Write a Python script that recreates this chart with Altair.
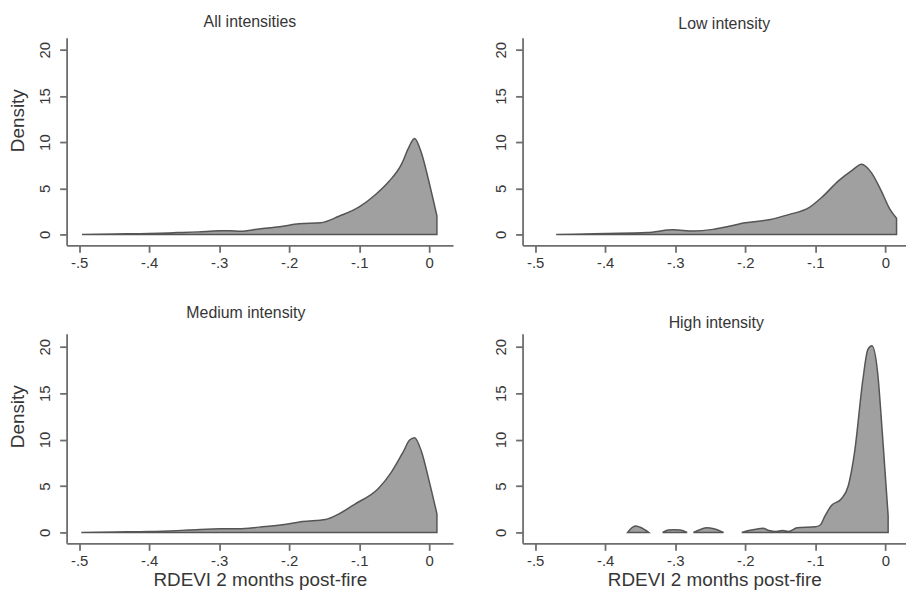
import altair as alt
import pandas as pd

FONT = "Liberation Sans"
TXT = "#363636"
AXC = "#6e6e6e"
FILL = "#a0a0a0"
EDGE = "#555555"

panel_titles = ["All intensities", "Low intensity", "Medium intensity", "High intensity"]
x_title = "RDEVI 2 months post-fire"
y_title = "Density"
x_ticks = [-0.5, -0.4, -0.3, -0.2, -0.1, 0.0]
y_ticks = [0, 5, 10, 15, 20]

# All intensities
all_x = [-0.496, -0.45, -0.40, -0.36, -0.33, -0.30, -0.285, -0.27, -0.243, -0.214,
         -0.186, -0.155, -0.129, -0.10, -0.077, -0.058, -0.039, -0.030, -0.021,
         -0.011, -0.001, 0.011]
all_y = [0.0, 0.05, 0.1, 0.2, 0.28, 0.4, 0.4, 0.35, 0.6, 0.83,
         1.15, 1.26, 1.97, 2.98, 4.3, 5.7, 7.7, 9.3, 10.4,
         8.8, 5.9, 2.0]

# Low intensity
low_x = [-0.47, -0.40, -0.34, -0.303, -0.274, -0.246, -0.223, -0.20, -0.166, -0.138,
         -0.109, -0.091, -0.067, -0.047, -0.034, -0.020, -0.006, 0.006, 0.016]
low_y = [0.0, 0.1, 0.2, 0.5, 0.37, 0.55, 0.9, 1.26, 1.6, 2.15,
         2.9, 4.0, 5.8, 6.97, 7.6, 6.7, 4.75, 2.8, 1.75]

# Medium intensity
med_x = [-0.497, -0.45, -0.40, -0.344, -0.297, -0.272, -0.243, -0.21, -0.181, -0.148,
         -0.129, -0.106, -0.073, -0.054, -0.037, -0.028, -0.021, -0.011, 0.0, 0.011]
med_y = [0.0, 0.05, 0.1, 0.25, 0.4, 0.4, 0.57, 0.82, 1.18, 1.4,
         2.0, 3.06, 4.7, 6.5, 8.7, 9.95, 10.2, 8.7, 5.5, 2.0]

# High intensity (separate bumps)
high_x = [-0.368, -0.362, -0.357, -0.350, -0.338,
          -0.318, -0.310, -0.302, -0.293, -0.283,
          -0.274, -0.263, -0.255, -0.245, -0.231,
          -0.205, -0.195, -0.184, -0.175, -0.166, -0.156, -0.147, -0.138, -0.126,
          -0.100, -0.093, -0.086, -0.077, -0.063, -0.053, -0.044, -0.032, -0.025,
          -0.019, -0.011, -0.004, 0.004]
high_y = [0.0, 0.5, 0.7, 0.55, 0.0,
          0.0, 0.25, 0.3, 0.25, 0.0,
          0.0, 0.35, 0.5, 0.4, 0.0,
          0.0, 0.2, 0.35, 0.45, 0.2, 0.1, 0.2, 0.1, 0.5,
          0.6, 0.8, 1.8, 2.9, 3.6, 5.0, 8.6, 16.5, 19.7,
          20.1, 17.2, 10.4, 1.8]
high_seg = [1] * 5 + [2] * 5 + [3] * 5 + [4] * 22

rows = []
for name, xs, ys, segs in [
    (panel_titles[0], all_x, all_y, [1] * len(all_x)),
    (panel_titles[1], low_x, low_y, [1] * len(low_x)),
    (panel_titles[2], med_x, med_y, [1] * len(med_x)),
    (panel_titles[3], high_x, high_y, high_seg),
]:
    for x, y, s in zip(xs, ys, segs):
        rows.append({"panel": name, "seg": s, "x": x, "y": y})
df = pd.DataFrame(rows)

X_LABEL_EXPR = "datum.value == 0 ? '0' : '-.' + toString(round(abs(datum.value) * 10))"


def panel(name, width, xmax, height, ymax, show_y_title, show_x_title, tdx, toff):
    d = df[df["panel"] == name]
    xaxis_kw = dict(
        values=x_ticks, labelExpr=X_LABEL_EXPR, grid=False,
        domainColor=AXC, domainWidth=1.8, tickColor=AXC, tickWidth=1.8, tickSize=7,
        labelFont=FONT, labelFontSize=15, labelColor=TXT, labelPadding=3,
        labelFlush=False, labelOverlap=False,
    )
    if show_x_title:
        xaxis_kw.update(title=x_title, titleFont=FONT, titleFontSize=19,
                        titleFontWeight="normal", titleColor=TXT, titlePadding=2)
    else:
        xaxis_kw.update(title=None)
    yaxis_kw = dict(
        values=y_ticks, grid=False,
        domainColor=AXC, domainWidth=1.8, tickColor=AXC, tickWidth=1.8, tickSize=7,
        labelFont=FONT, labelFontSize=15, labelColor=TXT, labelPadding=7,
        labelAngle=270, labelAlign="center", labelBaseline="bottom",
        labelFlush=False, labelOverlap=False,
    )
    if show_y_title:
        yaxis_kw.update(title=y_title, titleFont=FONT, titleFontSize=19,
                        titleFontWeight="normal", titleColor=TXT, titleAngle=270,
                        titleAlign="center", titleBaseline="top", titleX=-58, titleY=83)
    else:
        yaxis_kw.update(title=None)

    return alt.Chart(d).mark_area(
        fill=FILL, fillOpacity=1, stroke=EDGE, strokeWidth=1.5,
        interpolate="monotone"
    ).encode(
        x=alt.X("x:Q", scale=alt.Scale(domain=[-0.518, xmax], nice=False, zero=False),
                axis=alt.Axis(**xaxis_kw)),
        y=alt.Y("y:Q", scale=alt.Scale(domain=[-1.18, ymax], nice=False, zero=False),
                axis=alt.Axis(**yaxis_kw)),
        y2=alt.datum(0),
        detail="seg:N",
    ).properties(
        width=width, height=height,
        title=alt.TitleParams(name, font=FONT, fontSize=16, fontWeight="normal",
                              color=TXT, anchor="middle", baseline="alphabetic",
                              dx=tdx, offset=toff),
    )


tl = panel(panel_titles[0], 389, 0.034, 209, 21.3, True, False, -10, -5)
tr = panel(panel_titles[1], 386, 0.0295, 209, 21.3, False, False, 10, -7)
bl = panel(panel_titles[2], 389, 0.034, 211, 21.4, True, True, -14, 0)
br = panel(panel_titles[3], 386, 0.0295, 211, 21.4, False, True, 2, -10)

chart = alt.concat(tl, tr, bl, br, columns=2, bounds="flush",
                   spacing={"row": 89, "column": 70}).properties(
    padding={"left": 1, "top": 4, "right": 0, "bottom": 0},
    background="white",
).configure_view(stroke=None)

chart.save("out.html", embed_options={"renderer": "svg", "actions": False})
